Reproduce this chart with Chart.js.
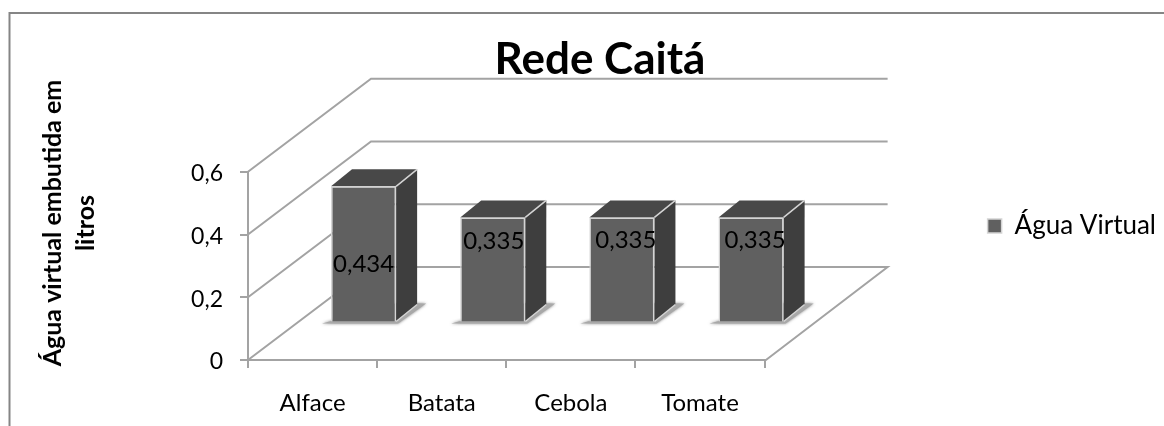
<!DOCTYPE html>
<html><head><meta charset="utf-8">
<style>html,body{margin:0;padding:0;background:#fff}canvas{display:block}</style>
<script src="https://cdn.jsdelivr.net/npm/chart.js@4"></script></head>
<body><div style="width:1164px;height:426px"><canvas id="c"></canvas></div>
<script>
const categories = ["Alface","Batata","Cebola","Tomate"];
const seriesName = "Água Virtual";
const values = [0.434,0.335,0.335,0.335];
const yTicks = [0,0.2,0.4,0.6];
const chartTitle = "Rede Caitá";
const yTitleLines = ["Água virtual embutida em","litros"];
const labelShift = [[0,10],[1,-28],[4,-29],[4,-29]];
const comma = v => String(v).replace('.',',');
const FONT = 'Lato, Carlito, sans-serif';
const WALL_DX = 123, WALL_DY = 93, BAR_DX = 51, BAR_DY = -37.5, SIDE_DX = 21, SIDE_DY = -17;

const threeD = {
  id:'threeD',
  beforeDraw(ch){
    const c = ch.ctx; c.save();
    c.strokeStyle='#858585'; c.lineWidth=2;
    c.beginPath(); c.moveTo(1164,13); c.lineTo(9.5,13); c.lineTo(9.5,426); c.stroke();
    c.restore();
  },
  afterLayout(ch){
    const lg = ch.legend, w = lg.width;
    lg.left = 1164 - w + 2; lg.right = lg.left + w;
    const h = lg.height; lg.top = 13; lg.bottom = 13 + h;
    const tb = ch.titleBlock; tb.left = 400; tb.right = 800;
  },
  beforeDatasetsDraw(ch){
    const c = ch.ctx, a = ch.chartArea, y = ch.scales.y;
    c.save();
    c.strokeStyle='#a3a3a3'; c.lineWidth=2;
    yTicks.forEach(t=>{
      const py = y.getPixelForValue(t);
      c.beginPath(); c.moveTo(a.left,py); c.lineTo(a.left+WALL_DX,py-WALL_DY); c.lineTo(a.right+WALL_DX,py-WALL_DY);
      if(t===0) c.lineTo(a.right,py+1);
      c.stroke();
    });
    const meta = ch.getDatasetMeta(0);
    meta.data.forEach(b=>{
      const L=b.x-b.width/2+BAR_DX, R=b.x+b.width/2+BAR_DX, T=b.y+BAR_DY, B=b.base+BAR_DY;
      c.save();
      c.shadowColor='rgba(90,90,90,.8)'; c.shadowBlur=3;
      c.fillStyle='#a8a8a8';
      c.beginPath(); c.moveTo(L-9,B+2); c.lineTo(R+2,B+2); c.lineTo(R+SIDE_DX+9,B+SIDE_DY-1); c.lineTo(R,B+SIDE_DY-1); c.closePath(); c.fill();
      c.restore();
      c.lineWidth=1.5; c.strokeStyle='#d4d4d4';
      c.fillStyle='#484848';
      c.beginPath(); c.moveTo(L,T); c.lineTo(L+SIDE_DX,T+SIDE_DY); c.lineTo(R+SIDE_DX,T+SIDE_DY); c.lineTo(R,T); c.closePath(); c.fill();
      c.fillStyle='#3e3e3e';
      c.beginPath(); c.moveTo(R,T); c.lineTo(R+SIDE_DX,T+SIDE_DY); c.lineTo(R+SIDE_DX,B+SIDE_DY); c.lineTo(R,B); c.closePath(); c.fill();
      c.beginPath(); c.moveTo(R,T); c.lineTo(R+SIDE_DX,T+SIDE_DY); c.stroke();
      c.beginPath(); c.moveTo(R,B); c.lineTo(R+SIDE_DX,B+SIDE_DY); c.stroke();
    });
    c.restore();
    c.save();
    c.translate(BAR_DX,BAR_DY);
  },
  afterDatasetsDraw(ch){
    const c = ch.ctx; c.restore();
    c.save();
    c.fillStyle='#000'; c.font='24px '+FONT; c.textAlign='center'; c.textBaseline='middle';
    ch.getDatasetMeta(0).data.forEach((b,i)=>{
      const T=b.y+BAR_DY, B=b.base+BAR_DY;
      c.fillText(comma(values[i]), b.x+BAR_DX+labelShift[i][0], (T+B)/2+labelShift[i][1]);
    });
    c.font='bold 25px '+FONT; c.translate(53,223); c.rotate(-Math.PI/2);
    yTitleLines.forEach((t,i)=>c.fillText(t,0,i*33));
    c.restore();
  }
};

new Chart(document.getElementById('c'),{
  type:'bar',
  data:{labels:categories,datasets:[{label:seriesName,data:values,backgroundColor:'#606060',borderColor:'#d4d4d4',borderWidth:1.5,clip:false,
    categoryPercentage:1,barPercentage:0.504}]},
  plugins:[threeD],
  options:{
    animation:false,responsive:true,maintainAspectRatio:false,
    layout:{padding:{left:0,top:0,bottom:0,right:213}},
    plugins:{
      tooltip:{enabled:false},
      title:{display:true,text:chartTitle,color:'#000',font:{family:FONT,size:44,weight:'bold'},padding:{top:33,bottom:86},align:'center'},
      legend:{position:'right',labels:{boxWidth:14,boxHeight:14,padding:8,color:'#000',font:{family:FONT,size:26}}}
    },
    scales:{
      x:{afterFit(s){s.height=66},
        grid:{display:true,drawOnChartArea:false,tickLength:8,color:'#a3a3a3',lineWidth:2,offset:true},
        border:{display:true,color:'#a3a3a3',width:2},
        ticks:{color:'#000',padding:21,maxRotation:0,font:{family:FONT,size:24}}},
      y:{min:0,max:0.6,afterFit(s){s.width=248},
        grid:{display:true,drawOnChartArea:false,tickLength:8,color:'#a3a3a3',lineWidth:2},
        border:{display:true,color:'#a3a3a3',width:2},
        afterBuildTicks(s){s.ticks=yTicks.map(v=>({value:v}))},
        ticks:{color:'#000',padding:17,labelOffset:2,callback:v=>comma(v),font:{family:FONT,size:23}}}
    }
  }
});
</script></body></html>
